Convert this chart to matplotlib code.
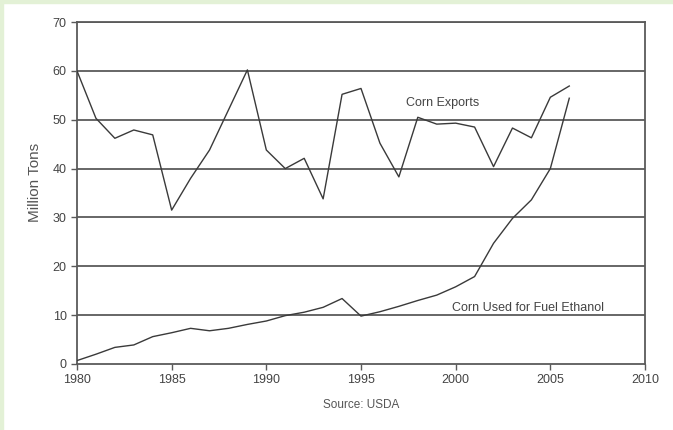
import numpy as np
import matplotlib.pyplot as plt
from matplotlib.patches import Rectangle

# Data (million tons)
years = list(range(1980, 2007))
exports = [60, 50.3, 46.2, 47.9, 46.9, 31.5, 38, 43.8, 52, 60.2,
           43.8, 40, 42.1, 33.8, 55.2, 56.4, 45.2, 38.3, 50.5, 49.1,
           49.3, 48.5, 40.4, 48.3, 46.3, 54.6, 56.9]
ethanol = [0.7, 2, 3.4, 3.9, 5.6, 6.4, 7.3, 6.8, 7.3, 8.1,
           8.8, 9.9, 10.6, 11.6, 13.4, 9.8, 10.7, 11.8, 13, 14.1,
           15.8, 17.9, 24.7, 29.8, 33.6, 40, 54.4]
x_ticks = [1980, 1985, 1990, 1995, 2000, 2005, 2010]
y_ticks = [0, 10, 20, 30, 40, 50, 60, 70]

plt.rcParams['font.family'] = ['Liberation Sans', 'DejaVu Sans']

fig = plt.figure(figsize=(6.73, 4.30), dpi=100, facecolor='white')

# light green frame on top and left edge
fig.patches.append(Rectangle((0, 0.993), 1, 0.007, transform=fig.transFigure,
                             color='#e3f1d6', zorder=0))
fig.patches.append(Rectangle((0, 0), 0.0045, 1, transform=fig.transFigure,
                             color='#e3f1d6', zorder=0))

ax = fig.add_axes([0.1144, 0.1535, 0.844, 0.7953])

line_col = '#3a3a3a'
grid_col = '#5a5a5a'

ax.plot(years, exports, color=line_col, linewidth=1.0, zorder=3)
ax.plot(years, ethanol, color=line_col, linewidth=1.0, zorder=3)

ax.set_xlim(1980, 2010)
ax.set_ylim(0, 70)
ax.set_xticks(x_ticks)
ax.set_yticks(y_ticks)

for y in y_ticks[1:]:
    ax.axhline(y, color=grid_col, linewidth=1.3, zorder=1)

for s in ax.spines.values():
    s.set_color(grid_col)
    s.set_linewidth(1.3)

ax.tick_params(axis='both', colors=grid_col, labelcolor='#444444',
               labelsize=9, direction='out', length=4, width=1)

ax.set_ylabel('Million Tons', fontsize=11, color='#555555', labelpad=5)
ax.yaxis.set_label_coords(-0.061, 0.53)

ax.text(1997.4, 53.4, 'Corn Exports', fontsize=9, color='#444444', va='center')
ax.text(1999.8, 11.5, 'Corn Used for Fuel Ethanol', fontsize=9, color='#444444',
        va='center')

fig.text(0.536, 0.052, 'Source: USDA', fontsize=8.5, color='#555555', ha='center')

fig.savefig('out.png', dpi=100, facecolor='white')
